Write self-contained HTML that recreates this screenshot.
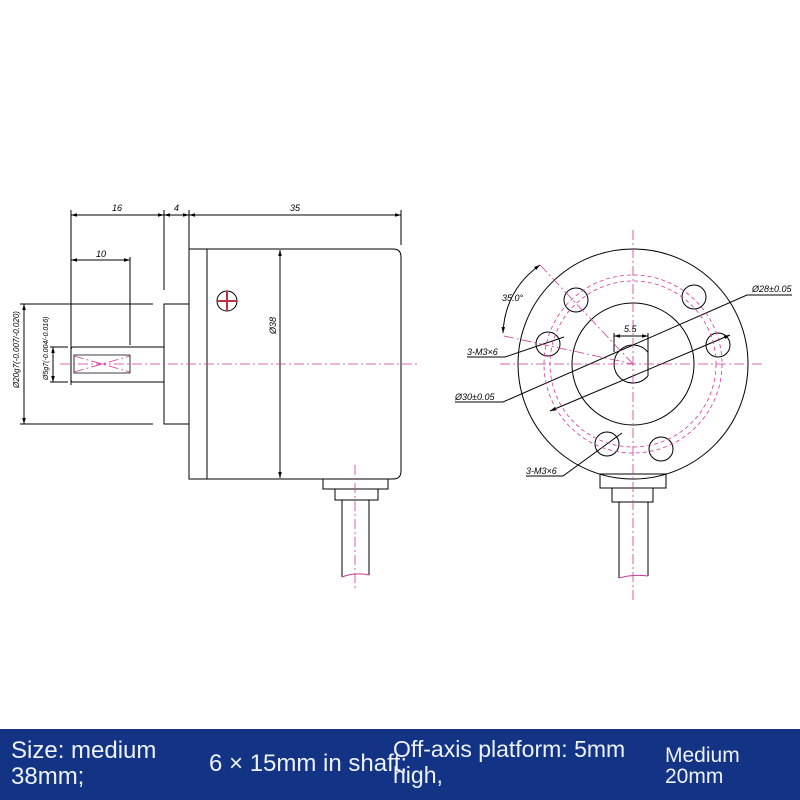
<!DOCTYPE html>
<html><head><meta charset="utf-8"><style>
html,body{margin:0;padding:0;width:800px;height:800px;background:#fff;overflow:hidden;font-family:"Liberation Sans",sans-serif}
svg{position:absolute;left:0;top:0}
.b{position:absolute;left:0;top:729px;width:800px;height:71px;background:#133485}
.t{position:absolute;color:#eef2fb;white-space:nowrap;transform-origin:0 0}
</style></head><body>
<svg width="800" height="729" viewBox="0 0 800 729" font-family="Liberation Sans,sans-serif" font-style="italic">
<defs><marker id="a" viewBox="0 0 10 10" refX="10" refY="5" markerWidth="6" markerHeight="6" orient="auto-start-reverse"><path d="M0,2L10,5L0,8z" fill="#000"/></marker></defs>
<g stroke="#000" stroke-width="1" fill="none">
<line x1="71" y1="215" x2="164" y2="215" marker-start="url(#a)" marker-end="url(#a)"/>
<line x1="164" y1="215" x2="189" y2="215" marker-start="url(#a)" marker-end="url(#a)"/>
<line x1="189" y1="215" x2="401" y2="215" marker-start="url(#a)" marker-end="url(#a)"/>
<line x1="71" y1="210" x2="71" y2="385"/>
<line x1="164" y1="210" x2="164" y2="290"/>
<line x1="189" y1="210" x2="189" y2="250"/>
<line x1="401" y1="210" x2="401" y2="245"/>
<line x1="71" y1="260" x2="130" y2="260" marker-start="url(#a)" marker-end="url(#a)"/>
<line x1="130" y1="257" x2="130" y2="345"/>
<path d="M189,249H393Q401,249 401,257V471Q401,479 393,479H189Z"/>
<line x1="207" y1="249" x2="207" y2="479"/>
<rect x="164" y="304" width="25" height="120"/>
<path d="M164,347H73Q71,347 71,350V380Q71,382 73,382H164"/>
<path d="M130,355H74V373H130Z" stroke-width="0.8"/>
<line x1="20" y1="304" x2="153" y2="304"/>
<line x1="20" y1="424" x2="153" y2="424"/>
<line x1="24" y1="304" x2="24" y2="424" marker-start="url(#a)" marker-end="url(#a)"/>
<line x1="53" y1="347" x2="53" y2="382" marker-start="url(#a)" marker-end="url(#a)"/>
<line x1="50" y1="347" x2="68" y2="347"/><line x1="50" y1="382" x2="68" y2="382"/>
<line x1="280" y1="250" x2="280" y2="478" marker-start="url(#a)" marker-end="url(#a)"/>
<circle cx="227" cy="301" r="10"/>
<rect x="323" y="479" width="65" height="10"/>
<rect x="335" y="489" width="43" height="11"/>
<path d="M342,500V577M369,500V575"/>
<circle cx="633" cy="364" r="115"/>
<circle cx="633" cy="364" r="61"/>
<path d="M648,352.3A19,19 0 1,0 648,375.7Z"/>
<circle cx="576" cy="300" r="12"/><circle cx="694" cy="297" r="12"/>
<circle cx="548" cy="344" r="12"/><circle cx="718" cy="345" r="12"/>
<circle cx="607" cy="444" r="12"/><circle cx="661" cy="449" r="12"/>
<rect x="600" y="474" width="66" height="14"/>
<rect x="612" y="488" width="41" height="14"/>
<path d="M619,502V578M648,502V576"/>
<line x1="614" y1="336" x2="648" y2="336" marker-start="url(#a)" marker-end="url(#a)"/>
<line x1="614" y1="333" x2="614" y2="352"/><line x1="648" y1="333" x2="648" y2="352"/>
<path d="M467,357H505L564,337"/>
<path d="M455,402H503L747,295H792"/>
<path d="M550,411L730,335" marker-start="url(#a)" marker-end="url(#a)"/>
<path d="M526,476H563L622,433"/>
<path d="M540,265Q505,290 503,333" marker-start="url(#a)" marker-end="url(#a)"/>
</g>
<g stroke="#d0399a" stroke-width="0.8" fill="none" stroke-dasharray="10,3,2,3">
<line x1="60" y1="364" x2="420" y2="364"/>
<line x1="355" y1="465" x2="355" y2="590"/>
<line x1="500" y1="364" x2="765" y2="364"/>
<line x1="633" y1="230" x2="633" y2="600"/>
<path d="M74,356L130,372M74,372L130,356"/>
<line x1="540" y1="265" x2="633" y2="364"/><line x1="504" y1="336" x2="633" y2="364"/>
</g>
<g stroke="#d0399a" stroke-width="0.8" fill="none" stroke-dasharray="4,3">
<circle cx="633" cy="364" r="89"/><circle cx="633" cy="364" r="83"/>
</g>
<path d="M342,577Q355,572 369,575" stroke="#d0399a" fill="none"/>
<path d="M619,578Q633,574 648,576" stroke="#d0399a" fill="none"/>
<g fill="#000" font-size="9">
<text x="112" y="211">16</text><text x="174" y="211">4</text><text x="290" y="211">35</text>
<text x="96" y="257">10</text>
<text x="502" y="301">35.0°</text><text x="624" y="332">5.5</text>
<text x="752" y="292">Ø28±0.05</text>
<text x="467" y="355">3-M3×6</text><text x="455" y="400">Ø30±0.05</text>
<text x="526" y="474">3-M3×6</text>
<text transform="translate(276,334) rotate(-90)">Ø38</text>
<text transform="translate(19,388) rotate(-90)" font-size="8">Ø20g7(-0.007/-0.020)</text>
<text transform="translate(48,380) rotate(-90)" font-size="7">Ø5g7(-0.004/-0.016)</text>
</g>
<path d="M217,301H237M227,291V311" stroke="#c03040" stroke-width="2"/>
</svg>
<div class="b"></div>
<div class="t" style="left:11px;top:738px;font-size:24px;line-height:26px">Size: medium<br>38mm;</div>
<div class="t" style="left:209px;top:750px;font-size:24px">6 × 15mm in shaft;</div>
<div class="t" style="left:393px;top:736px;font-size:23px;line-height:26px">Off-axis platform: 5mm<br>high,</div>
<div class="t" style="left:665px;top:745px;font-size:21px;line-height:21px">Medium<br>20mm</div>
</body></html>
